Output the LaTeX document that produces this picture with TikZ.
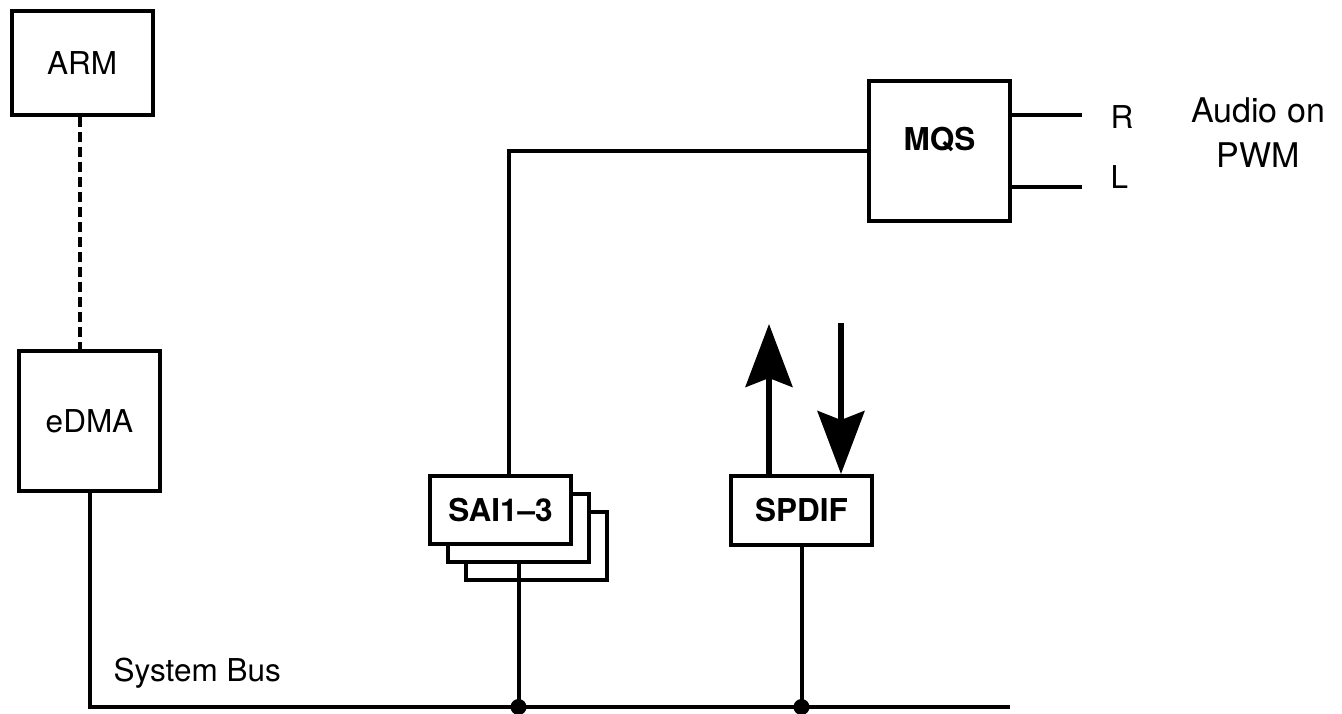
\documentclass[tikz,border=0pt]{standalone}
\usepackage{fontspec}
\setmainfont{TeX Gyre Heros}
\usetikzlibrary{arrows.meta,calc}
\tikzset{
  blk/.style={draw, line width=4pt, fill=white, inner sep=0pt, minimum width=141pt, font=\fontsize{31.5}{38}\selectfont},
  bblk/.style={blk, font=\fontsize{31.5}{38}\selectfont\bfseries},
  wire/.style={line width=4pt},
  dwire/.style={wire, dash pattern=on 10pt off 5pt},
  bigarrow/.style={line width=5.2pt, -{Stealth[length=63pt,width=47pt,inset=9pt]}},
  lbl/.style={inner sep=0pt, font=\fontsize{31.5}{38}\selectfont},
  junction/.style={circle, fill, inner sep=0pt, minimum size=16pt}
}
\begin{document}
\begin{tikzpicture}[x=1pt,y=-1pt]
\useasboundingbox (0,0) rectangle (1342,713);
% boxes
\node[blk, minimum height=104pt] (ARM) at (82,63) {ARM};
\node[blk, minimum height=140pt] (eDMA) at (89.5,421) {eDMA};
\node[blk, minimum height=68pt] (SAI3) at (536.5,546) {};
\node[blk, minimum height=68pt] (SAI2) at (518.5,528) {};
\node[bblk, minimum height=68pt] (SAI1) at (500.5,510) {SAI1–3};
\node[bblk, minimum height=69pt] (SPDIF) at (801.5,510.5) {SPDIF};
\node[blk, minimum height=140pt] (MQS) at (939.5,151) {};
\node[lbl, font=\fontsize{31.5}{38}\selectfont\bfseries] (MQSt) at (939.5,140) {MQS};
% helper coordinates
\coordinate (busend) at (1010,707);
\coordinate (dashx) at (80,0);
\coordinate (saix) at (509,0);
\coordinate (upx) at (769,0);
\coordinate (uptip) at (769,324);
\coordinate (downtop) at (841,323);
\coordinate (Rend) at (1082,115);
\coordinate (Lend) at (1082,187);
% connectors
\draw[dwire] (ARM.south -| dashx) -- (eDMA.north -| dashx);
\draw[wire] (eDMA.south) |- (busend);
\draw[wire] (SAI1.north -| saix) |- (MQS.west);
\draw[wire] (SAI2.south) -- (SAI2.south |- busend);
\node[junction] (j1) at (SAI2.south |- busend) {};
\draw[wire] (SPDIF.south) -- (SPDIF.south |- busend);
\node[junction] (j2) at (SPDIF.south |- busend) {};
\draw[bigarrow] (SPDIF.north -| upx) -- (uptip);
\draw[bigarrow] (downtop) -- (SPDIF.north -| downtop);
\draw[wire] (MQS.east |- Rend) -- (Rend);
\draw[wire] (MQS.east |- Lend) -- (Lend);
% labels
\node[lbl, anchor=base west] (R) at (1110.5,128) {R};
\node[lbl, anchor=base west] (L) at (1110.5,188) {L};
\node[lbl, font=\fontsize{34}{45}\selectfont, align=center, anchor=north] (audio) at (1258,98) {Audio on\\PWM};
\node[lbl, anchor=base west] (bus) at (113.5,681) {System Bus};
\end{tikzpicture}
\end{document}
